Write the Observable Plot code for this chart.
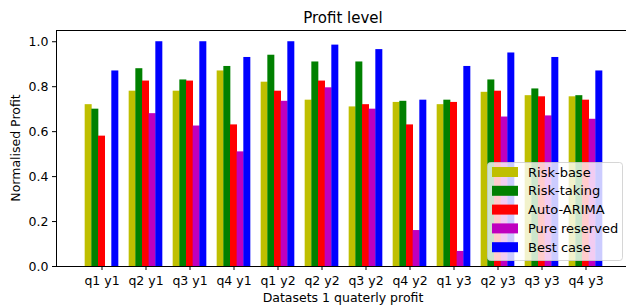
<!DOCTYPE html>
<html>
<head>
<meta charset="utf-8">
<script src="https://cdn.jsdelivr.net/npm/d3@7"></script>
<script src="https://cdn.jsdelivr.net/npm/@observablehq/plot@0.6"></script>
<style>
  html, body { margin: 0; padding: 0; background: #fff; }
  svg { display: block; }
</style>
</head>
<body>
<div id="chart"></div>
<script>
const categories = ["q1 y1","q2 y1","q3 y1","q4 y1","q1 y2","q2 y2","q3 y2","q4 y2","q1 y3","q2 y3","q3 y3","q4 y3"];
const seriesNames = ["Risk-base","Risk-taking","Auto-ARIMA","Pure reserved","Best case"];
const seriesColors = ["#bfbf00","#008000","#ff0000","#bf00bf","#0000ff"];
const riskBase     = [0.72, 0.78, 0.78, 0.87, 0.82, 0.74, 0.71, 0.73, 0.72, 0.775, 0.76, 0.755];
const riskTaking   = [0.70, 0.88, 0.83, 0.89, 0.94, 0.91, 0.91, 0.735, 0.74, 0.83, 0.79, 0.76];
const autoArima    = [0.58, 0.825, 0.825, 0.63, 0.78, 0.825, 0.72, 0.63, 0.73, 0.78, 0.755, 0.74];
const pureReserved = [0.0, 0.68, 0.625, 0.51, 0.735, 0.795, 0.70, 0.16, 0.067, 0.665, 0.67, 0.655];
const bestCase     = [0.87, 1.0, 1.0, 0.93, 1.0, 0.985, 0.965, 0.74, 0.89, 0.95, 0.93, 0.87];
const yTicks = [0, 0.2, 0.4, 0.6, 0.8, 1.0];

const seriesValues = [riskBase, riskTaking, autoArima, pureReserved, bestCase];

const W = 626, H = 306;
const mLeft = 56, mTop = 30, mBottom = 40;
const xRange = [56, 630];
const padInner = 0.85, padOuter = 0.8875;
const step = (xRange[1] - xRange[0]) / (categories.length - padInner + 2 * padOuter);
const barW = step * (1 - padInner);

const marks = seriesNames.map((name, k) =>
  Plot.barY(categories.map((c, i) => ({cat: c, value: seriesValues[k][i]})), {
    x: "cat", y: "value", fill: seriesColors[k], dx: (k - 2) * barW
  })
);
marks.push(Plot.ruleY([1.05], {stroke: "#000", strokeWidth: 1}));

const svg = Plot.plot({
  width: W, height: H,
  marginLeft: mLeft, marginRight: 0, marginTop: mTop, marginBottom: mBottom,
  style: {fontFamily: "DejaVu Sans", fontSize: "12.5px", color: "#000", background: "#fff"},
  x: {domain: categories, range: xRange, paddingInner: padInner, paddingOuter: padOuter,
      label: null, tickSize: 4, tickPadding: 6, line: true},
  y: {domain: [0, 1.05], ticks: yTicks, tickFormat: d3.format(".1f"), label: null,
      tickSize: 4, tickPadding: 4, line: true},
  marks
});

const s = d3.select(svg);
s.append("text").attr("x", 343).attr("y", 23).attr("text-anchor", "middle")
  .attr("font-family", "DejaVu Sans").attr("font-size", 15).attr("fill", "#000").text("Profit level");
s.append("text").attr("x", 343).attr("y", 302).attr("text-anchor", "middle")
  .attr("font-family", "DejaVu Sans").attr("font-size", 12.5).attr("fill", "#000").text("Datasets 1 quaterly profit");
s.append("text").attr("transform", "translate(20,148) rotate(-90)").attr("text-anchor", "middle")
  .attr("font-family", "DejaVu Sans").attr("font-size", 12.5).attr("fill", "#000").text("Normalised Profit");

const lg = s.append("g");
lg.append("rect").attr("x", 487.5).attr("y", 162.5).attr("width", 135).attr("height", 98)
  .attr("rx", 3).attr("fill", "#fff").attr("fill-opacity", 0.8)
  .attr("stroke", "#cccccc").attr("stroke-opacity", 0.8);
seriesNames.forEach((name, k) => {
  const cy = 172 + k * 18.8;
  lg.append("rect").attr("x", 492).attr("y", cy - 5).attr("width", 26).attr("height", 10)
    .attr("fill", seriesColors[k]);
  lg.append("text").attr("x", 528).attr("y", cy).attr("dy", "0.35em").attr("text-anchor", "start")
    .attr("font-family", "DejaVu Sans").attr("font-size", 13).attr("fill", "#000").text(name);
});

document.getElementById("chart").appendChild(svg);
</script>
</body>
</html>
